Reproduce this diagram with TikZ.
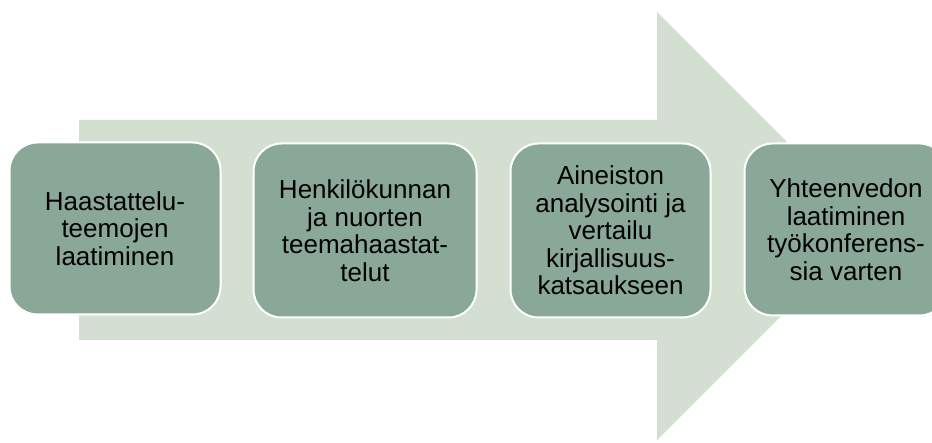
\documentclass[tikz,border=0pt]{standalone}
\usepackage{fontspec}
\setmainfont{Liberation Sans}
\definecolor{arrowfill}{RGB}{211,224,209}
\definecolor{boxfill}{RGB}{137,168,152}
\begin{document}
\begin{tikzpicture}[x=1pt,y=-1pt,
  stepbox/.style={draw=white, line width=2pt, fill=boxfill, rounded corners=28pt,
    align=center, inner sep=0pt,
    font=\fontsize{26}{27.5}\selectfont, text=black}]
\useasboundingbox (0,0) rectangle (932,443);
\fill[arrowfill] (79,120) -- (657,120) -- (657,12) -- (871,226) -- (657,440) -- (657,340) -- (79,340) -- cycle;
\node[stepbox, minimum width=211pt, minimum height=172pt] (b1) at (115,228.5) {Haastattelu-\\teemojen\\laatiminen};
\node[stepbox, minimum width=223pt, minimum height=174pt] (b2) at (365,230.5) {Henkilökunnan\\ja nuorten\\teemahaastat-\\telut};
\node[stepbox, minimum width=200pt, minimum height=174pt] (b3) at (610.5,230.5) {Aineiston\\analysointi ja\\vertailu\\kirjallisuus-\\katsaukseen};
\node[stepbox, minimum width=203pt, minimum height=172pt] (b4) at (846,229.5) {Yhteenvedon\\laatiminen\\työkonferens-\\sia varten};
\end{tikzpicture}
\end{document}
